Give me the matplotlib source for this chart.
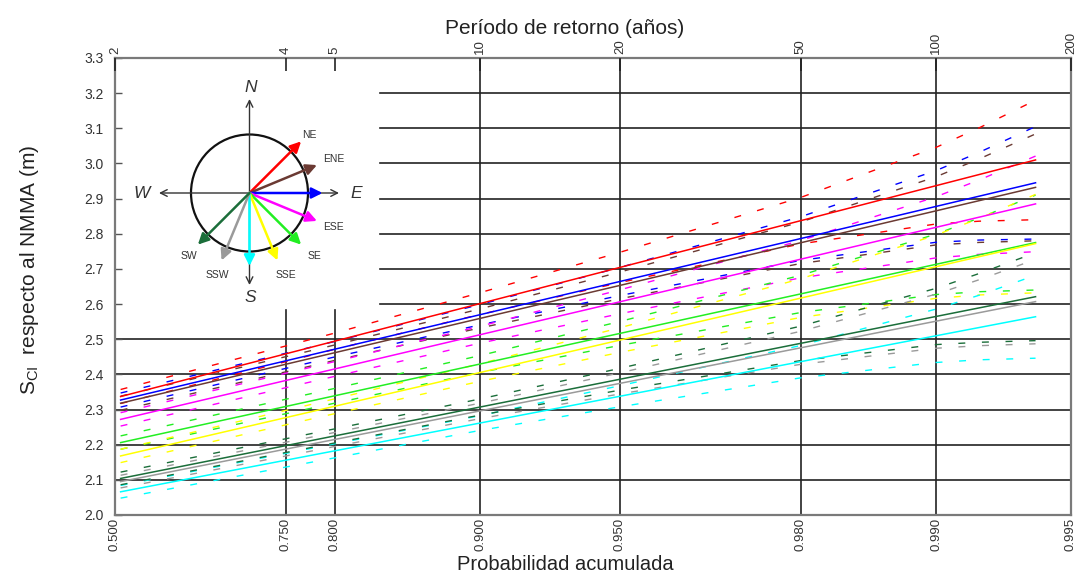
import numpy as np
import matplotlib
matplotlib.use("Agg")
import matplotlib.pyplot as plt
from matplotlib.patches import Circle, FancyArrowPatch
from matplotlib import font_manager

# ---------------------------------------------------------------- data
prob_ticks = [0.500, 0.750, 0.800, 0.900, 0.950, 0.980, 0.990, 0.995]
prob_tick_labels = ["0.500", "0.750", "0.800", "0.900", "0.950", "0.980", "0.990", "0.995"]
return_periods = [2, 4, 5, 10, 20, 50, 100, 200]

directions = ["NE", "ENE", "E", "ESE", "SE", "SSE", "S", "SSW", "SW"]
bearings = [45.0, 67.5, 90.0, 112.5, 135.0, 157.5, 180.0, 202.5, 225.0]
dir_colors = ["#ff0000", "#6b3a33", "#0000ff", "#ff00ff", "#22ee22",
              "#ffff00", "#00ffff", "#9a9a9a", "#1b6e3a"]

# Gumbel fit: level at the first and last plotted probability
fit_prob = [0.51, 0.994]
fit_start = [2.337, 2.318, 2.327, 2.272, 2.206, 2.168, 2.066, 2.095, 2.104]
fit_end = [3.010, 2.932, 2.945, 2.885, 2.775, 2.772, 2.564, 2.607, 2.621]

# confidence band half-width around each fit
band_prob = [0.51, 0.80, 0.90, 0.95, 0.98, 0.99, 0.992, 0.994]
band_halfwidth = {
    "NE":  [0.020, 0.023, 0.031, 0.043, 0.066, 0.109, 0.133, 0.170],
    "ENE": [0.020, 0.022, 0.027, 0.038, 0.059, 0.097, 0.119, 0.152],
    "E":   [0.020, 0.022, 0.029, 0.040, 0.062, 0.102, 0.125, 0.160],
    "ESE": [0.019, 0.021, 0.024, 0.034, 0.053, 0.087, 0.106, 0.136],
    "SE":  [0.019, 0.021, 0.024, 0.034, 0.053, 0.086, 0.105, 0.135],
    "SSE": [0.019, 0.021, 0.025, 0.035, 0.055, 0.090, 0.109, 0.140],
    "S":   [0.018, 0.020, 0.021, 0.030, 0.046, 0.076, 0.092, 0.118],
    "SSW": [0.018, 0.020, 0.022, 0.030, 0.047, 0.077, 0.094, 0.120],
    "SW":  [0.018, 0.020, 0.023, 0.031, 0.049, 0.080, 0.098, 0.125],
}

y_ticks = [2.0, 2.1, 2.2, 2.3, 2.4, 2.5, 2.6, 2.7, 2.8, 2.9, 3.0, 3.1, 3.2, 3.3]

# ---------------------------------------------------------------- fonts
names = {f.name for f in font_manager.fontManager.ttflist}
NARROW = "Liberation Sans Narrow" if "Liberation Sans Narrow" in names else "Liberation Sans"
SANS = "Liberation Sans"
plt.rcParams["font.family"] = [SANS, "DejaVu Sans"]
plt.rcParams["mathtext.fontset"] = "custom"
plt.rcParams["mathtext.rm"] = SANS


# Gumbel probability paper
def gumbel_fwd(p):
    p = np.clip(np.asarray(p, dtype=float), 1e-9, 1 - 1e-12)
    return -np.log(-np.log(p))


def gumbel_inv(u):
    return np.exp(-np.exp(-np.asarray(u, dtype=float)))


W, H = 1083, 574
fig = plt.figure(figsize=(W / 100, H / 100), dpi=100)
fig.patch.set_facecolor("white")

ax_l, ax_r, ax_t, ax_b = 115, 1071, 58, 515
ax = fig.add_axes([ax_l / W, 1 - ax_b / H, (ax_r - ax_l) / W, (ax_b - ax_t) / H])
ax.set_xscale("function", functions=(gumbel_fwd, gumbel_inv))
ax.set_xlim(0.5, 0.995)
ax.set_ylim(2.0, 3.3)

grid_kw = dict(color="#222222", lw=1.2, zorder=1)
x_cut = (380 - ax_l) / (ax_r - ax_l)
for yv in y_ticks[1:-1]:
    if yv > 2.55:
        ax.axhline(yv, xmin=x_cut, xmax=1, **grid_kw)
    else:
        ax.axhline(yv, **grid_kw)
y_cut = (2.583 - 2.0) / 1.3
for pv in prob_ticks[1:-1]:
    if pv < 0.85:
        ax.axvline(pv, ymin=0, ymax=y_cut, **grid_kw)
    else:
        ax.axvline(pv, **grid_kw)

# fitted lines with their confidence bands
u0, u1 = gumbel_fwd(fit_prob[0]), gumbel_fwd(fit_prob[1])
bp = np.array(band_prob)
for name, col, s, e in zip(directions, dir_colors, fit_start, fit_end):
    centre = s + (e - s) * (gumbel_fwd(bp) - u0) / (u1 - u0)
    hw = np.array(band_halfwidth[name])
    for sign in (1, -1):
        ax.plot(bp, centre + sign * hw, color=col, lw=1.0,
                linestyle=(0, (5, 12)), zorder=2)
for name, col, s, e in zip(directions, dir_colors, fit_start, fit_end):
    ax.plot(fit_prob, [s, e], color=col, lw=1.1, zorder=3)

for sp in ax.spines.values():
    sp.set_color("#7a7a7a")
    sp.set_linewidth(1.6)

ax.set_yticks(y_ticks)
ax.set_yticklabels([f"{v:.1f}" for v in y_ticks])
ax.tick_params(axis="y", direction="in", length=5, width=1, color="#555555",
               pad=8, labelsize=10, labelcolor="#333333")
for lab in ax.get_yticklabels():
    lab.set_family(NARROW)
ax.set_xticks(prob_ticks)
ax.set_xticklabels(prob_tick_labels, rotation=90)
ax.xaxis.set_minor_locator(matplotlib.ticker.NullLocator())
ax.tick_params(axis="x", direction="in", length=0, pad=2, labelsize=9.5,
               labelcolor="#333333")
for lab in ax.get_xticklabels():
    lab.set_family(NARROW)

# return period axis on top
ax2 = ax.twiny()
ax2.set_xscale("function", functions=(gumbel_fwd, gumbel_inv))
ax2.set_xlim(ax.get_xlim())
ax2.set_xticks([1 - 1 / t for t in return_periods])
ax2.set_xticklabels([str(t) for t in return_periods], rotation=90)
ax2.xaxis.set_minor_locator(matplotlib.ticker.NullLocator())
ax2.tick_params(axis="x", direction="in", length=9, width=1.2, color="#222222",
                pad=3, labelsize=9.5, labelcolor="#333333")
for lab in ax2.get_xticklabels():
    lab.set_family(NARROW)
for sp in ax2.spines.values():
    sp.set_visible(False)

fig.text(565 / W, 1 - 28 / H, "Período de retorno (años)", ha="center",
         va="center", fontsize=15, color="#222222")
fig.text(565 / W, 1 - 565 / H, "Probabilidad acumulada", ha="center",
         va="center", fontsize=14.5, color="#222222")
fig.text(30 / W, 1 - 270 / H, r"S$_{\mathrm{CI}}$  respecto al NMMA (m)",
         ha="center", va="center", rotation=90, fontsize=15, color="#222222")

# compass rose with the wave directions
cx, cy = 249.5, 193
x0, x1, y0, y1 = 120, 380, 67, 310
axc = fig.add_axes([x0 / W, 1 - y1 / H, (x1 - x0) / W, (y1 - y0) / H])
axc.set_xlim(x0 - cx, x1 - cx)
axc.set_ylim(cy - y1, cy - y0)
axc.set_axis_off()
axc.patch.set_alpha(0)
axc.set_zorder(5)

axc.add_patch(Circle((0, 0), 58.5, fill=False, lw=1.6, ec="#111111"))
for dx, dy in [(0, 94), (0, -92), (-90.5, 0), (89.5, 0)]:
    axc.add_patch(FancyArrowPatch((0, 0), (dx, dy), arrowstyle="->",
                                  mutation_scale=12, lw=1.0, color="#333333",
                                  shrinkA=0, shrinkB=0))
card_kw = dict(ha="center", va="center", fontsize=12.5, style="italic",
               color="#333333")
axc.text(1.5, 105, "N", **card_kw)
axc.text(0.5, -105, "S", **card_kw)
axc.text(-108, -1, "W", **card_kw)
axc.text(107, -1, "E", **card_kw)

for name, b, col in zip(directions, bearings, dir_colors):
    ang = np.deg2rad(90 - b)
    tip = (73 * np.cos(ang), 73 * np.sin(ang))
    axc.add_patch(FancyArrowPatch((0, 0), tip, arrowstyle="-|>",
                                  mutation_scale=16, lw=1.8, color=col,
                                  shrinkA=0, shrinkB=0, zorder=3))
    if name in ("E", "S"):
        continue
    r = 82 if name == "NE" else 89
    axc.text(r * np.cos(ang) + 2, r * np.sin(ang), name, ha="center",
             va="center", fontsize=7.5, color="#333333", family=NARROW)

fig.savefig("out.png", dpi=100, facecolor="white")
